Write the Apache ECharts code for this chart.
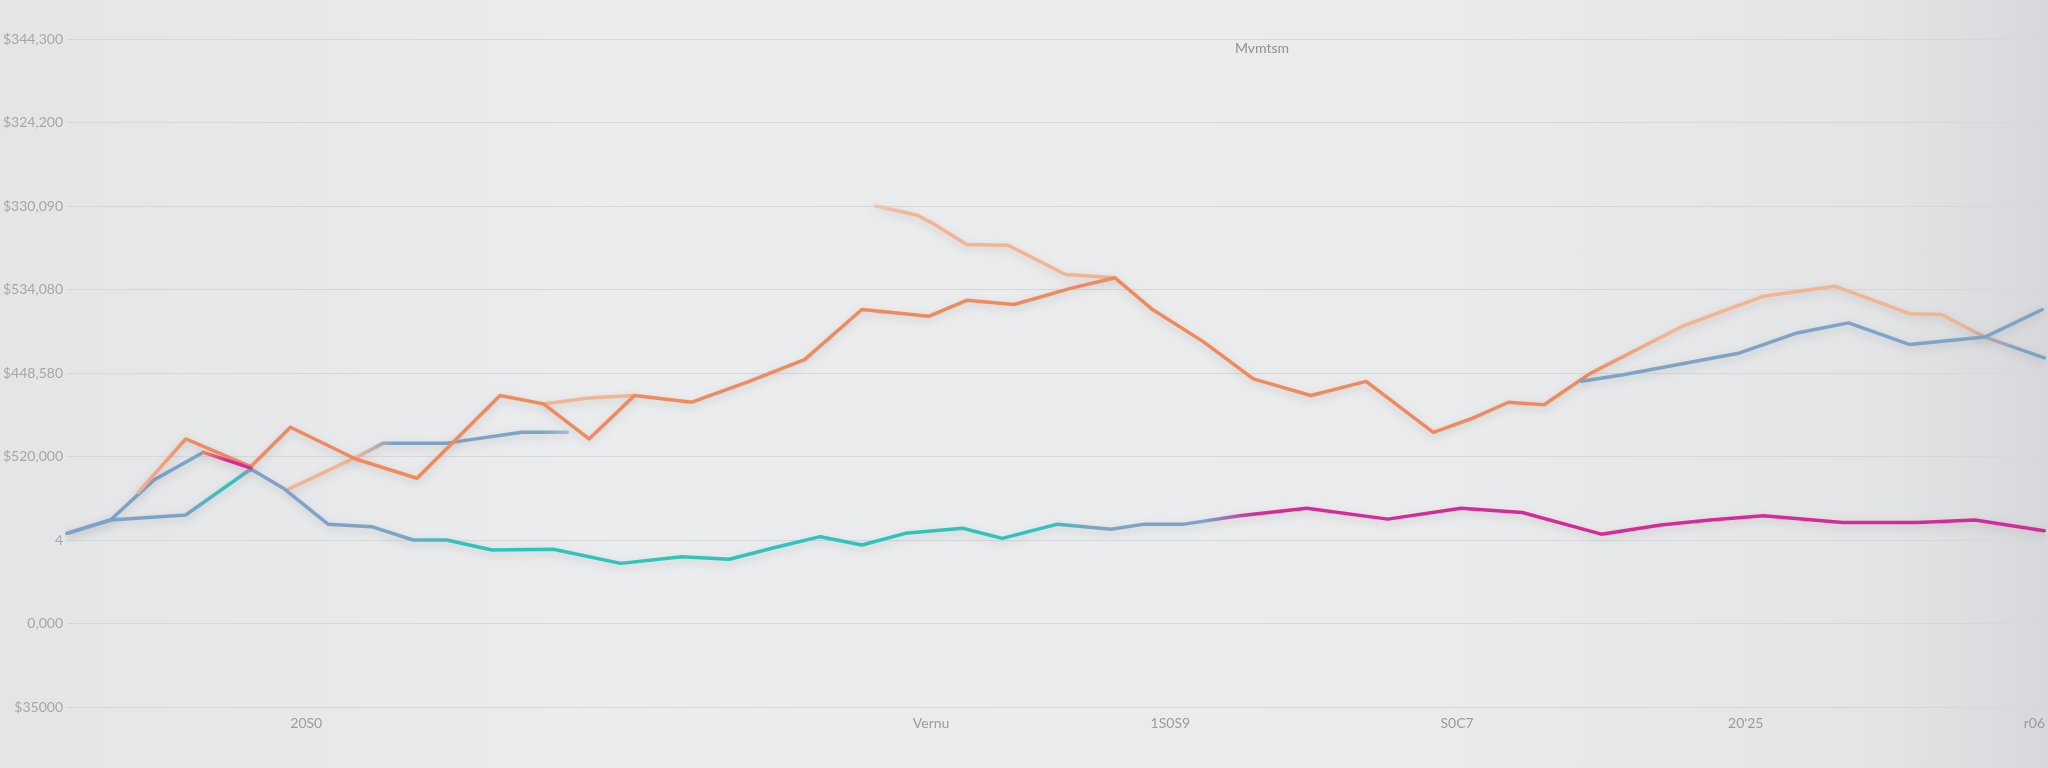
<!DOCTYPE html>
<html>
<head>
<meta charset="utf-8">
<script src="https://cdn.jsdelivr.net/npm/echarts@6/dist/echarts.min.js"></script>
<style>
  html, body { margin: 0; padding: 0; }
  body { width: 2048px; height: 768px; overflow: hidden;
    background: linear-gradient(to right, #e4e5e7 0%, #ebeced 30%, #eaebec 70%, #e2e4e6 92%, #d6d8db 100%); }
  #chart { width: 2048px; height: 768px; }
</style>
</head>
<body>
<div id="chart"></div>
<script>
// ---- Data (x: position along the period axis 0..100, y: axis units 0..8) ----
const yTickLabels = ['$35000', '0,000', '4', '$520,000', '$448,580', '$534,080', '$330,090', '$324,200', '$344,300'];
const xTickValues = [12.1, 43.7, 55.8, 70.3, 84.9, 99.5];
const xTickLabels = ['20S0', 'Vernu', '1S0S9', 'S0C7', "20'25", 'r06'];
const chartTitle = 'Mvmtsm';

const bottomLine = [[0,2.08],[2.2,2.24],[6.0,2.30],[9.3,2.85],[11.0,2.61],[13.2,2.19],[15.4,2.16],[17.5,2.00],[19.2,2.00],[21.5,1.88],[24.6,1.89],[28.0,1.72],[31.1,1.80],[33.5,1.77],[35.8,1.91],[38.1,2.04],[40.2,1.94],[42.4,2.08],[45.3,2.14],[47.3,2.02],[50.1,2.19],[52.8,2.13],[54.5,2.19],[56.5,2.19],[59.3,2.29],[62.7,2.38],[66.8,2.25],[70.5,2.38],[73.6,2.33],[77.6,2.07],[80.6,2.18],[83.1,2.24],[85.8,2.29],[89.8,2.21],[93.6,2.21],[96.5,2.24],[100,2.11]];
const upperBlueBranch = [[0,2.08],[2.2,2.24],[4.4,2.72],[6.9,3.05]];
const pinkLink = [[6.9,3.05],[9.3,2.86]];
const orangeLine = [[3.6,2.57],[6.0,3.21],[9.3,2.88],[11.3,3.35],[14.6,2.97],[17.7,2.74],[21.9,3.73],[24.1,3.63],[26.4,3.21],[28.7,3.73],[31.6,3.65],[34.5,3.90],[37.3,4.16],[40.2,4.76],[43.6,4.68],[45.5,4.87],[47.9,4.82],[50.7,5.01],[53.0,5.14],[54.9,4.76],[57.5,4.37],[60.0,3.93],[62.9,3.73],[65.7,3.90],[69.1,3.29],[71.1,3.46],[72.9,3.65],[74.7,3.62],[77.0,3.99],[81.7,4.56],[85.8,4.92],[89.4,5.04],[93.2,4.71],[94.8,4.70],[97.0,4.43],[100,4.18]];
const peachTop = [[40.9,6.00],[43.0,5.89],[43.8,5.79],[45.5,5.54],[47.6,5.53],[50.5,5.18],[53.0,5.14]];
const peachLoop = [[24.1,3.63],[26.4,3.70],[28.7,3.73]];
const blueMiddle = [[11.2,2.61],[14.8,3.01],[16.0,3.16],[19.2,3.16],[23.0,3.29],[25.3,3.29]];
const blueRight = [[76.6,3.90],[78.7,3.98],[81.9,4.12],[84.6,4.24],[87.5,4.48],[90.1,4.60],[93.2,4.34],[97.0,4.43],[99.9,4.76]];

// ---- Styles ----
const BLUE = '#7ea3c7', TEAL = '#2dc4bc', MAGENTA = '#d62a98', ORANGE = '#f08a5e', PEACH = '#f4b490';
const G = echarts.graphic.LinearGradient;
const shadow = { shadowBlur: 8, shadowColor: 'rgba(60,60,70,0.18)', shadowOffsetY: 3 };

function line(data, color, width, z) {
  return { type: 'line', data, symbol: 'none', smooth: false, z: z || 2,
    lineStyle: Object.assign({ color, width: width || 3.5, cap: 'round', join: 'round' }, shadow),
    emphasis: { disabled: true }, silent: true };
}

const chart = echarts.init(document.getElementById('chart'), null, { renderer: 'canvas' });
chart.setOption({
  animation: false,
  backgroundColor: 'transparent',
  title: { text: chartTitle, left: 1230, top: 36,
    textStyle: { fontSize: 14, fontWeight: 'normal', color: '#8e9093', fontFamily: 'Lato, sans-serif' } },
  grid: { left: 57, right: 0, top: 39, bottom: 61 },
  xAxis: {
    type: 'value', min: 0, max: 100,
    axisLine: { show: false }, axisTick: { show: false }, splitLine: { show: false },
    axisLabel: {
      customValues: xTickValues, margin: 9,
      color: '#9a9c9f', fontSize: 14, fontFamily: 'Lato, sans-serif',
      formatter: v => { const i = xTickValues.findIndex(t => Math.abs(t - v) < 0.01); return i >= 0 ? xTickLabels[i] : ''; }
    }
  },
  yAxis: {
    type: 'value', min: 0, max: 8, interval: 1,
    axisLine: { show: false }, axisTick: { show: false },
    splitLine: { lineStyle: { color: '#d5d7da', width: 1 } },
    axisLabel: { margin: 4, color: '#a4a6a9', fontSize: 14, fontFamily: 'Lato, sans-serif',
      formatter: v => yTickLabels[Math.round(v)] }
  },
  series: [
    line(peachTop, new G(0, 0, 1, 0, [{offset: 0, color: 'rgba(244,180,144,0.6)'}, {offset: 0.15, color: PEACH}, {offset: 1, color: PEACH}]), 3.5, 2),
    line(peachLoop, PEACH, 3.5, 2),
    line(blueMiddle, new G(0, 0, 1, 0, [{offset: 0, color: PEACH}, {offset: 0.25, color: PEACH}, {offset: 0.38, color: BLUE}, {offset: 0.9, color: BLUE}, {offset: 1, color: 'rgba(126,163,199,0.6)'}]), 3.5, 2),
    line(upperBlueBranch, BLUE, 3.5, 3),
    line(orangeLine, new G(0, 0, 1, 0, [
      {offset: 0, color: PEACH}, {offset: 0.03, color: ORANGE}, {offset: 0.76, color: ORANGE},
      {offset: 0.8, color: PEACH}, {offset: 0.955, color: PEACH}, {offset: 0.985, color: BLUE}, {offset: 1, color: BLUE}]), 3.5, 3),
    line(blueRight, BLUE, 3.5, 4),
    line(pinkLink, new G(0, 0, 1, 0, [{offset: 0, color: ORANGE}, {offset: 0.5, color: MAGENTA}, {offset: 1, color: MAGENTA}]), 3.5, 5),
    line(bottomLine, new G(0, 0, 1, 0, [
      {offset: 0, color: BLUE}, {offset: 0.06, color: BLUE}, {offset: 0.085, color: TEAL}, {offset: 0.095, color: BLUE},
      {offset: 0.17, color: BLUE}, {offset: 0.2, color: TEAL}, {offset: 0.495, color: TEAL}, {offset: 0.52, color: BLUE},
      {offset: 0.575, color: BLUE}, {offset: 0.6, color: MAGENTA}, {offset: 1, color: MAGENTA}]), 3.5, 4)
  ]
});
</script>
</body>
</html>
